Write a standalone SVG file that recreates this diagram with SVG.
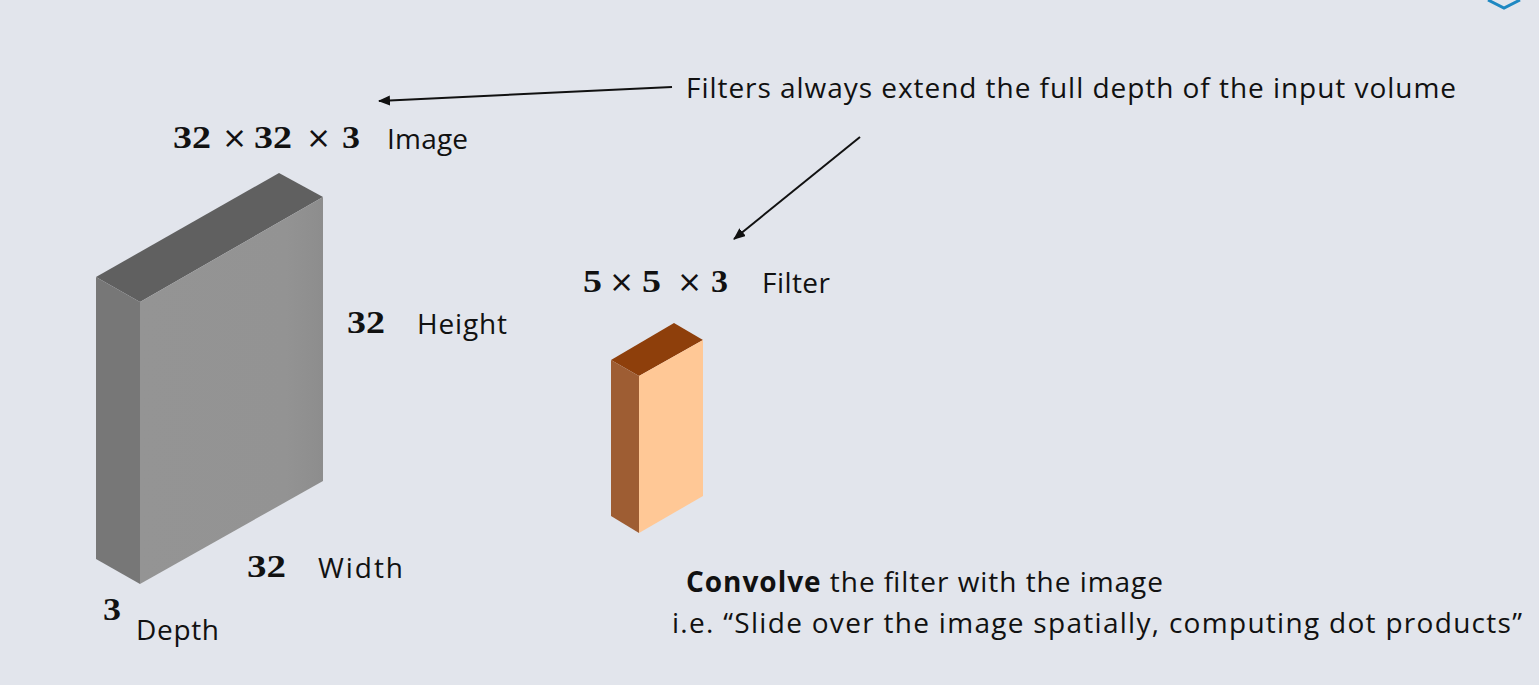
<svg xmlns="http://www.w3.org/2000/svg" width="1539" height="685" viewBox="0 0 1539 685">
<defs>
<style>
.t{font-family:"Open Sans","Noto Sans",sans-serif;font-size:28px;fill:#111}
.m{font-family:"Liberation Serif","DejaVu Serif",serif;font-size:31px;font-weight:bold;fill:#111}
.x{font-family:"DejaVu Sans","Liberation Sans",sans-serif;font-size:30px;fill:#111}
.conn{stroke:#111;stroke-width:2;fill:none}
</style>
<marker id="ah" markerWidth="12" markerHeight="10" refX="11" refY="5" orient="auto" markerUnits="userSpaceOnUse">
<path d="M0,0 L12,5 L0,10 z" fill="#111"/>
</marker>
<linearGradient id="gf" x1="0" y1="0" x2="1" y2="0">
<stop offset="0" stop-color="#949494"/>
<stop offset="0.8" stop-color="#939393"/>
<stop offset="1" stop-color="#8d8d8d"/>
</linearGradient>
</defs>
<rect width="1539" height="685" fill="#E2E5EC"/>
<path d="M1488,0 L1504,8 L1520,0" fill="none" stroke="#1E88C2" stroke-width="3"/>

<g id="image-volume">
<polygon points="96,277 279,173 323,197 140,302" fill="#606060"/>
<polygon points="96,277 140,302 140,584 96,559" fill="#777777"/>
<polygon points="140,302 323,197 323,481 140,584" fill="url(#gf)"/>
</g>

<g id="filter-volume">
<polygon points="611,360 674,323 703,340 639,376" fill="#8E3F0B"/>
<polygon points="611,360 639,376 639,533 611,516" fill="#9E5D33"/>
<polygon points="639,376 703,340 703,496 639,533" fill="#FFC896"/>
</g>

<g id="image-label">
<text class="m" x="173" y="148" textLength="38" lengthAdjust="spacingAndGlyphs">32</text>
<text class="x" x="222" y="148">×</text>
<text class="m" x="254" y="148" textLength="38" lengthAdjust="spacingAndGlyphs">32</text>
<text class="x" x="306" y="148">×</text>
<text class="m" x="342" y="148" textLength="18" lengthAdjust="spacingAndGlyphs">3</text>
<text class="t" x="387" y="149" textLength="81">Image</text>
</g>

<g id="height-label">
<text class="m" x="347" y="333" textLength="38" lengthAdjust="spacingAndGlyphs">32</text>
<text class="t" x="417" y="334" textLength="90">Height</text>
</g>

<g id="width-label">
<text class="m" x="247" y="577" textLength="39" lengthAdjust="spacingAndGlyphs">32</text>
<text class="t" x="318" y="578" textLength="85">Width</text>
</g>

<g id="depth-label">
<text class="m" x="103" y="620" textLength="18" lengthAdjust="spacingAndGlyphs">3</text>
<text class="t" x="136" y="640" textLength="83">Depth</text>
</g>

<g id="filter-label">
<text class="m" x="583" y="292" textLength="19" lengthAdjust="spacingAndGlyphs">5</text>
<text class="x" x="609" y="292">×</text>
<text class="m" x="642" y="292" textLength="19" lengthAdjust="spacingAndGlyphs">5</text>
<text class="x" x="677" y="292">×</text>
<text class="m" x="711" y="292" textLength="17" lengthAdjust="spacingAndGlyphs">3</text>
<text class="t" x="762" y="293" textLength="68">Filter</text>
</g>

<g id="note">
<text class="t" x="686" y="98" textLength="770">Filters always extend the full depth of the input volume</text>
</g>

<g id="convolve-note">
<text class="t" x="686" y="592" textLength="477"><tspan font-weight="bold">Convolve</tspan> the filter with the image</text>
<text class="t" x="672" y="633" textLength="850">i.e. “Slide over the image spatially, computing dot products”</text>
</g>

<g id="connectors">
<line class="conn" x1="672" y1="87" x2="379" y2="101" marker-end="url(#ah)"/>
<line class="conn" x1="860" y1="137" x2="734" y2="239" marker-end="url(#ah)"/>
</g>
</svg>
